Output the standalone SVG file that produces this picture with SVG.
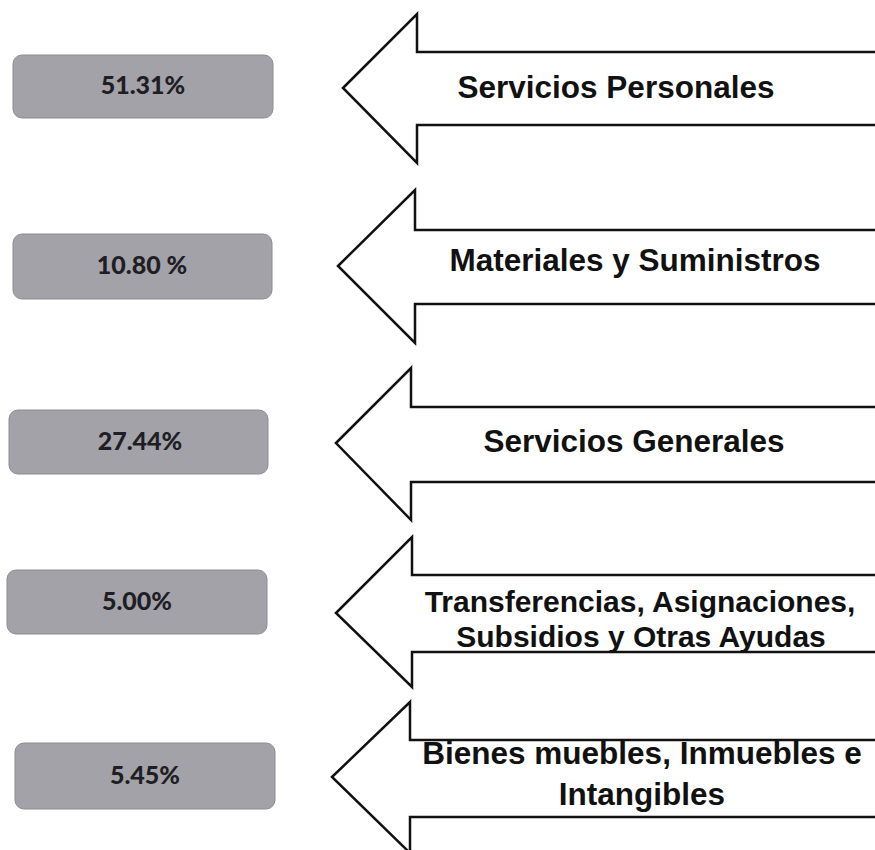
<svg xmlns="http://www.w3.org/2000/svg" width="875" height="850" viewBox="0 0 875 850">
  <style>
    .box { fill: #a3a2a8; stroke: #8d8c92; stroke-width: 1; }
    .pct { font-family: Lato, "Open Sans", sans-serif; font-weight: 900; font-size: 25px; fill: #1e1e24; text-anchor: middle; }
    .arrow { fill: #ffffff; stroke: #111111; stroke-width: 2.5; stroke-linejoin: miter; }
    .lbl { font-family: "Liberation Sans", Arial, sans-serif; font-weight: bold; font-size: 31.5px; fill: #111111; text-anchor: middle; }
    .lbl2 { font-size: 30px; }
  </style>
  <rect width="875" height="850" fill="#ffffff"/>

  <g id="connectors">
    <polygon class="arrow" points="343,88 417,14 417,52 880,52 880,125 417,125 417,163"/>
    <polygon class="arrow" points="338,266 415,190 415,230 880,230 880,304 415,304 415,343"/>
    <polygon class="arrow" points="336,443 411,368 411,407 880,407 880,482 411,482 411,520"/>
    <polygon class="arrow" points="336,613 412,537 412,575 880,575 880,652 412,652 412,687"/>
    <polygon class="arrow" points="332,777 410,702 410,740 880,740 880,817 410,817 410,853"/>
  </g>

  <g id="pct1">
    <rect class="box" x="13" y="55" width="260" height="63" rx="9"/>
    <text class="pct" x="143" y="94">51.31%</text>
  </g>
  <g id="pct2">
    <rect class="box" x="13" y="234" width="259" height="65" rx="9"/>
    <text class="pct" x="142" y="274">10.80 %</text>
  </g>
  <g id="pct3">
    <rect class="box" x="9" y="410" width="259" height="64" rx="9"/>
    <text class="pct" x="140" y="450">27.44%</text>
  </g>
  <g id="pct4">
    <rect class="box" x="7" y="570" width="260" height="64" rx="9"/>
    <text class="pct" x="137" y="610">5.00%</text>
  </g>
  <g id="pct5">
    <rect class="box" x="15" y="743" width="260" height="66" rx="9"/>
    <text class="pct" x="145" y="784">5.45%</text>
  </g>

  <g id="lbl1">
    <text class="lbl" x="616" y="98">Servicios Personales</text>
  </g>
  <g id="lbl2">
    <text class="lbl" x="635" y="271">Materiales y Suministros</text>
  </g>
  <g id="lbl3">
    <text class="lbl" x="634" y="452">Servicios Generales</text>
  </g>
  <g id="lbl4">
    <text class="lbl lbl2" x="640" y="612">Transferencias, Asignaciones,</text>
    <text class="lbl lbl2" x="641" y="647">Subsidios y Otras Ayudas</text>
  </g>
  <g id="lbl5">
    <text class="lbl" x="642" y="764">Bienes muebles, Inmuebles e</text>
    <text class="lbl" x="642" y="805">Intangibles</text>
  </g>
</svg>
